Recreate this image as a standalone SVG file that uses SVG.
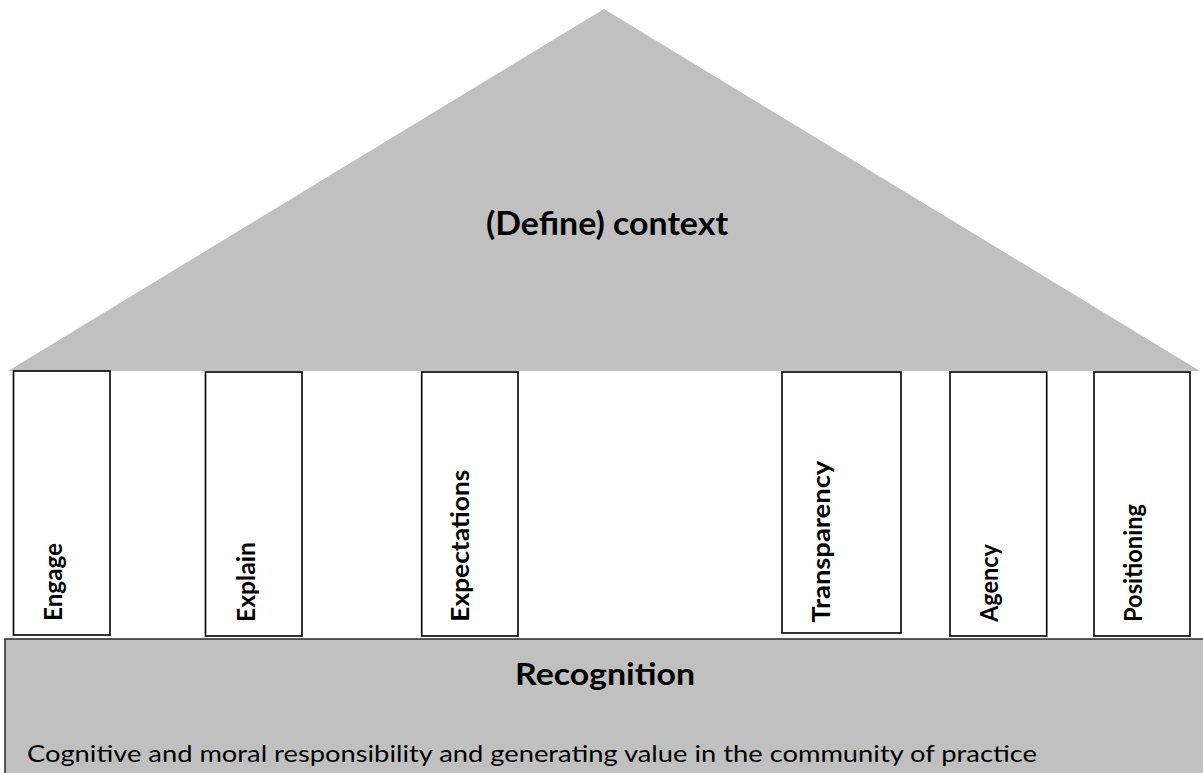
<svg xmlns="http://www.w3.org/2000/svg" width="1203" height="773" viewBox="0 0 1203 773">
<style>
.pillar{fill:#ffffff;stroke:#000000;stroke-width:1.6}
.plabel{font-family:Lato,"Liberation Sans",sans-serif;font-weight:bold;font-size:24px;fill:#000}
.title{font-family:Lato,"Liberation Sans",sans-serif;font-weight:bold;fill:#000}
.body{font-family:Lato,"Liberation Sans",sans-serif;font-size:24px;fill:#000}
</style>
<rect width="1203" height="773" fill="#ffffff"/>
<g id="roof">
<polygon points="604,9 8,371 1200,371" fill="#c0c0c0"/>
<text class="title" x="607" y="235" font-size="32" text-anchor="middle" textLength="242" lengthAdjust="spacingAndGlyphs">(Define) context</text>
</g>
<g id="base">
<rect x="5" y="639" width="1210" height="150" fill="#c0c0c0" stroke="#333333" stroke-width="1.6"/>
<text class="title" x="605" y="685" font-size="31" text-anchor="middle" textLength="180" lengthAdjust="spacingAndGlyphs">Recognition</text>
<text class="body" x="27" y="762" textLength="1010" lengthAdjust="spacingAndGlyphs">Cognitive and moral responsibility and generating value in the community of practice</text>
</g>
<g id="engage">
<rect class="pillar" x="13.5" y="371" width="96.5" height="264"/>
<text class="plabel" transform="translate(62,621) rotate(-90)" textLength="78" lengthAdjust="spacingAndGlyphs">Engage</text>
</g>
<g id="explain">
<rect class="pillar" x="205.5" y="372" width="96.5" height="264"/>
<text class="plabel" transform="translate(255,622) rotate(-90)" textLength="80" lengthAdjust="spacingAndGlyphs">Explain</text>
</g>
<g id="expectations">
<rect class="pillar" x="421.7" y="372" width="96.3" height="264"/>
<text class="plabel" transform="translate(469,621.7) rotate(-90)" textLength="152" lengthAdjust="spacingAndGlyphs">Expectations</text>
</g>
<g id="transparency">
<rect class="pillar" x="782" y="372" width="119" height="261"/>
<text class="plabel" transform="translate(830,622.7) rotate(-90)" textLength="162" lengthAdjust="spacingAndGlyphs">Transparency</text>
</g>
<g id="agency">
<rect class="pillar" x="950" y="372" width="96.7" height="264"/>
<text class="plabel" transform="translate(998,622) rotate(-90)" textLength="78" lengthAdjust="spacingAndGlyphs">Agency</text>
</g>
<g id="positioning">
<rect class="pillar" x="1094" y="372" width="96" height="264"/>
<text class="plabel" transform="translate(1142,622) rotate(-90)" textLength="118" lengthAdjust="spacingAndGlyphs">Positioning</text>
</g>
<g id="connectors"/>
</svg>
